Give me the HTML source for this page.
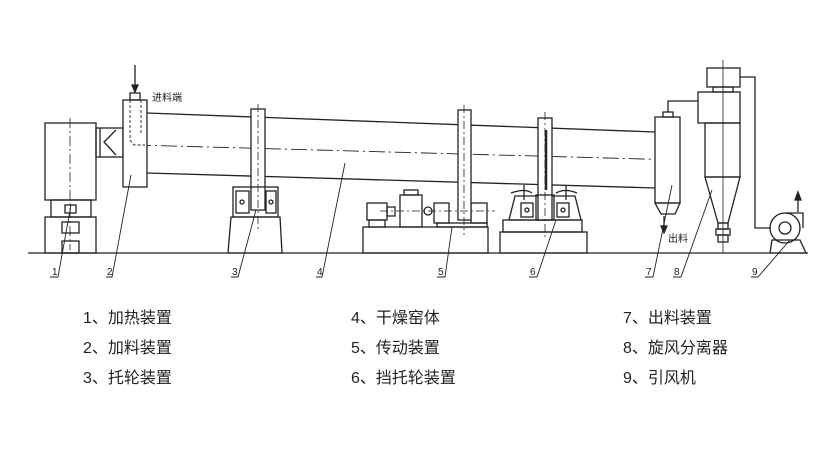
<!DOCTYPE html>
<html><head><meta charset="utf-8"><style>
html,body{margin:0;padding:0;background:#fff;}
svg{display:block}
.t{font-family:"Liberation Sans","Noto Sans CJK SC",sans-serif;font-size:16px;fill:#222}
.s{font-family:"Liberation Sans","Noto Sans CJK SC",sans-serif;font-size:10px;fill:#222}
</style></head><body>
<svg width="827" height="463" viewBox="0 0 827 463" xmlns="http://www.w3.org/2000/svg">
<g fill="none" stroke="#222" stroke-width="1.3">
<!-- ground -->
<line x1="28" y1="253" x2="808" y2="253"/>
<!-- heater 1 -->
<rect x="45" y="123" width="51" height="77" fill="#fff"/>
<rect x="51" y="200" width="40" height="17"/>
<rect x="45" y="217" width="51" height="36"/>
<rect x="65" y="205" width="11" height="8"/>
<rect x="62" y="222" width="17" height="11"/>
<rect x="62" y="241" width="17" height="12"/>
<line x1="70" y1="118" x2="70" y2="250" stroke-dasharray="10,3,2,3" stroke-width="0.8"/>
<!-- connector -->
<rect x="96" y="128" width="27" height="29"/>
<line x1="100" y1="128" x2="100" y2="157"/>
<polyline points="116,130 104,142 116,155"/>
<!-- drum 4 -->
<line x1="147" y1="113" x2="655" y2="132"/>
<line x1="147" y1="173" x2="655" y2="188"/>
<line x1="135" y1="145" x2="680" y2="160" stroke-dasharray="16,4,2,4" stroke-width="0.9"/>
<!-- feed 2 -->
<rect x="123" y="100" width="24" height="87" fill="#fff"/>
<rect x="130" y="93" width="10" height="7"/>
<polyline points="130,100 130,140 134,145 145,145" stroke-dasharray="3,2" stroke-width="0.9"/>
<line x1="141" y1="100" x2="141" y2="135" stroke-dasharray="3,2" stroke-width="0.9"/>
<line x1="135" y1="65" x2="135" y2="90"/>
<polygon points="132,85 138,85 135,92" fill="#222"/>
<!-- support 3 -->
<rect x="251" y="109" width="14" height="101" fill="#fff"/>
<rect x="233" y="187" width="45" height="30"/>
<rect x="236" y="191" width="13" height="22"/>
<rect x="266" y="191" width="10" height="22"/>
<circle cx="242" cy="202" r="2"/><circle cx="271" cy="202" r="2"/>
<polygon points="231,217 280,217 282,253 228,253"/>
<line x1="258" y1="104" x2="258" y2="230" stroke-dasharray="8,3,2,3" stroke-width="0.8"/>
<!-- drive 5 -->
<rect x="363" y="227" width="125" height="26"/>
<rect x="367" y="203" width="20" height="17"/>
<rect x="369" y="220" width="16" height="7"/>
<rect x="387" y="207" width="8" height="9"/>
<rect x="400" y="195" width="22" height="32"/>
<rect x="404" y="190" width="14" height="5"/>
<circle cx="428" cy="211" r="4"/>
<rect x="434" y="203" width="15" height="20"/>
<rect x="471" y="203" width="16" height="20"/>
<rect x="437" y="223" width="50" height="4"/>
<rect x="458" y="110" width="13" height="110" fill="#fff"/>
<line x1="464" y1="105" x2="464" y2="235" stroke-dasharray="8,3,2,3" stroke-width="0.8"/>
<line x1="380" y1="211" x2="495" y2="211" stroke-dasharray="8,3,2,3" stroke-width="0.8"/>
<!-- 6 thrust -->
<rect x="500" y="232" width="87" height="21"/>
<rect x="503" y="220" width="79" height="12"/>
<polygon points="515,196 575,196 581,220 509,220"/>
<path d="M511,193 Q525,188 532,193 M556,193 Q565,188 577,193"/>
<line x1="524" y1="185" x2="524" y2="200"/><line x1="566" y1="185" x2="566" y2="200"/>
<rect x="521" y="203" width="12" height="14"/><rect x="557" y="203" width="12" height="14"/>
<circle cx="527" cy="210" r="2"/><circle cx="563" cy="210" r="2"/>
<rect x="538" y="118" width="14" height="102" fill="#fff"/>
<line x1="546" y1="130" x2="546" y2="190" stroke-width="2.5"/>
<rect x="536" y="195" width="18" height="25"/>
<line x1="545" y1="112" x2="545" y2="240" stroke-dasharray="8,3,2,3" stroke-width="0.8"/>
<!-- 7 discharge -->
<rect x="655" y="117" width="25" height="86" fill="#fff"/>
<polygon points="655,203 680,203 675,214 661,214"/>
<rect x="663" y="112" width="10" height="5"/>
<line x1="664" y1="216" x2="664" y2="230"/>
<polygon points="661,226 667,226 664,233" fill="#222"/>
<polyline points="668,112 668,101 698,101"/>
<!-- 8 cyclone -->
<rect x="707" y="68" width="33" height="19"/>
<rect x="713" y="87" width="20" height="5"/>
<rect x="698" y="92" width="42" height="31"/>
<rect x="705" y="123" width="35" height="54"/>
<polygon points="705,177 740,177 728,223 718,223"/>
<rect x="718" y="223" width="10" height="6"/>
<rect x="716" y="229" width="14" height="6"/>
<rect x="718" y="235" width="10" height="7"/>
<line x1="723" y1="60" x2="723" y2="253" stroke-width="0.8"/>
<polyline points="740,77 755,77 755,228 771,228"/>
<!-- 9 fan -->
<circle cx="785" cy="228" r="15"/>
<circle cx="785" cy="228" r="6"/>
<polyline points="785,213 803,213 803,228"/>
<polygon points="772,240 770,253 806,253 800,240"/>
<line x1="798" y1="212" x2="798" y2="196"/>
<polygon points="795,200 801,200 798,192" fill="#222"/>
<!-- leaders -->
<g stroke-width="0.9">
<polyline points="71,205 58,277 50,277"/>
<polyline points="131,175 112,277 106,277"/>
<polyline points="256,210 238,277 231,277"/>
<polyline points="345,163 322,277 316,277"/>
<polyline points="452,227 445,277 437,277"/>
<polyline points="556,220 537,277 529,277"/>
<polyline points="672,185 653,277 645,277"/>
<polyline points="712,190 681,277 673,277"/>
<polyline points="790,240 758,277 751,277"/>
</g>
</g>
<g class="s">
<text x="152" y="101">进料端</text>
<text x="668" y="242">出料</text>
<text x="52" y="275">1</text><text x="107" y="275">2</text><text x="232" y="275">3</text>
<text x="317" y="275">4</text><text x="438" y="275">5</text><text x="530" y="275">6</text>
<text x="646" y="275">7</text><text x="674" y="275">8</text><text x="752" y="275">9</text>
</g>
<g class="t">
<text x="83" y="323">1、加热装置</text>
<text x="83" y="353">2、加料装置</text>
<text x="83" y="383">3、托轮装置</text>
<text x="351" y="323">4、干燥窑体</text>
<text x="351" y="353">5、传动装置</text>
<text x="351" y="383">6、挡托轮装置</text>
<text x="623" y="323">7、出料装置</text>
<text x="623" y="353">8、旋风分离器</text>
<text x="623" y="383">9、引风机</text>
</g>
</svg>
</body></html>
